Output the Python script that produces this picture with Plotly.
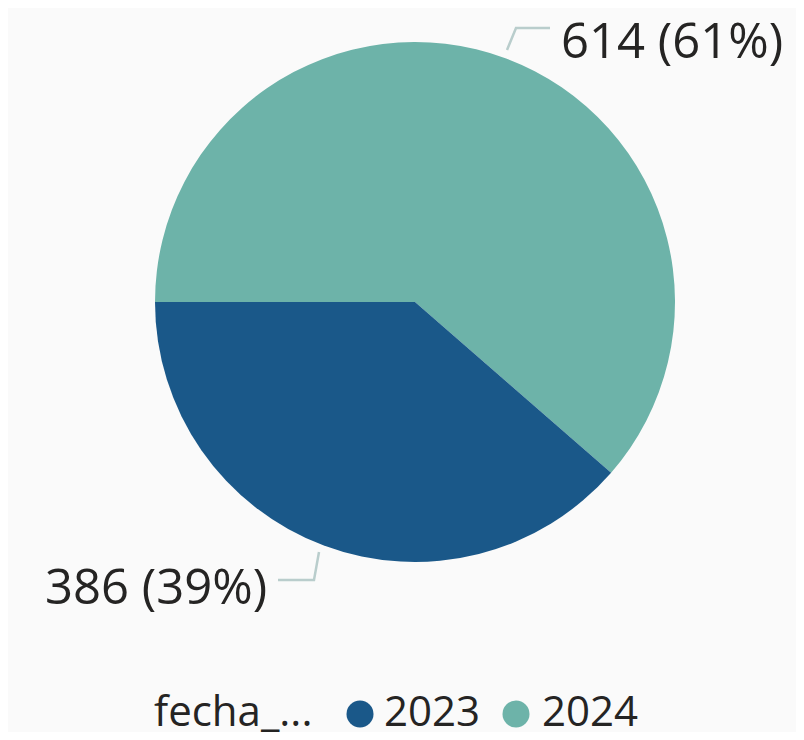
import plotly.graph_objects as go

#   Data
years = ["2023", "2024"]
counts = [386, 614]
colors = ["#1A5889", "#6DB3A9"]
legend_title = "fecha_..."

#   The page has an 8px body margin, so the figure is drawn 8px smaller
OFF = 8
W, H = 804 - 2 * OFF, 740 - 2 * OFF
FONT = "Open Sans"
INK = "#252423"
LEADER = "#B9CDCC"


def px_x(v):
    return (v - OFF) / W


def px_y(v):
    return 1 - (v - OFF) / H


total = sum(counts)
label_text = [f"{v} ({round(100 * v / total)}%)" for v in counts]

fig = go.Figure()

#   Pie: 2024 first, going clockwise from 9 o'clock
fig.add_trace(go.Pie(
    labels=years[::-1],
    values=counts[::-1],
    sort=False,
    direction="clockwise",
    rotation=270,
    marker=dict(colors=colors[::-1], line=dict(width=0)),
    textinfo="none",
    showlegend=False,
    hoverinfo="label+value+percent",
    domain=dict(x=[px_x(155), px_x(675)], y=[px_y(562), px_y(42)]),
))

#   Data labels with bent leader lines (Power BI style)
label_pos = {"2023": (268, 585, "right"), "2024": (560, 39, "left")}
leader_paths = {
    "2023": [(319, 552), (314, 580), (278, 580)],
    "2024": [(507, 50), (516, 28), (550, 28)],
}
for yr, txt in zip(years, label_text):
    lx, ly, anchor = label_pos[yr]
    fig.add_annotation(x=px_x(lx), y=px_y(ly), xref="paper", yref="paper",
                       text=txt, showarrow=False, xanchor=anchor, yanchor="middle",
                       borderpad=0,
                       font=dict(size=49, color=INK, family=FONT))
    pts = leader_paths[yr]
    path = "M " + " L ".join(f"{px_x(a):.5f},{px_y(b):.5f}" for a, b in pts)
    fig.add_shape(type="path", xref="paper", yref="paper", path=path,
                  line=dict(color=LEADER, width=2.5))

#   Manual legend (round markers)
ly = 709
fig.add_annotation(x=px_x(153), y=px_y(ly), xref="paper", yref="paper",
                   text=legend_title, showarrow=False, xanchor="left", yanchor="middle",
                   borderpad=0,
                   font=dict(size=42, color=INK, family=FONT))
dot_x = [360, 516]
text_x = [383, 541]
for yr, c, dx, tx in zip(years, colors, dot_x, text_x):
    fig.add_shape(type="circle", xref="paper", yref="paper",
                  x0=px_x(dx - 13.5), x1=px_x(dx + 13.5),
                  y0=px_y(ly + 5 + 13.5), y1=px_y(ly + 5 - 13.5),
                  fillcolor=c, line=dict(width=0))
    fig.add_annotation(x=px_x(tx), y=px_y(ly), xref="paper", yref="paper",
                       text=yr, showarrow=False, xanchor="left", yanchor="middle",
                       borderpad=0,
                       font=dict(size=42, color=INK, family=FONT))

fig.update_layout(
    width=W, height=H,
    paper_bgcolor="#FAFAFA",
    plot_bgcolor="#FAFAFA",
    margin=dict(l=0, r=0, t=0, b=0),
    showlegend=False,
)

fig.write_html("out.html")
